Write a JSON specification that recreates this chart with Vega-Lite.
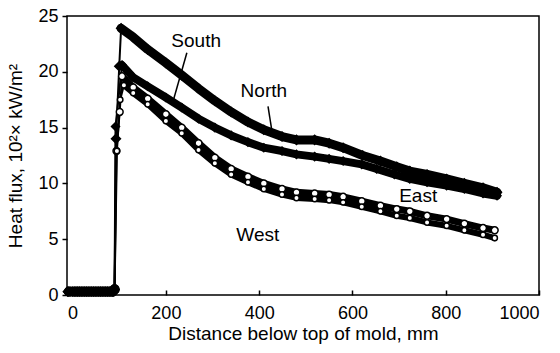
{
  "$schema": "https://vega.github.io/schema/vega-lite/v6.json",
  "width": 472,
  "height": 279,
  "autosize": {"type": "none"},
  "padding": {"left": 67, "top": 16, "right": 21, "bottom": 58},
  "background": "white",
  "config": {
    "view": {"stroke": "black", "strokeWidth": 1.5},
    "font": "Liberation Sans",
    "axis": {"domain": false, "grid": false, "tickColor": "black", "labelColor": "black", "titleColor": "black", "labelFontSize": 18, "titleFontSize": 19, "titleFontWeight": "normal", "tickWidth": 1.5}
  },
  "datasets": {
    "flux": [
      {"series": "North", "x": -10, "y": 0.3}, {"series": "North", "x": 0, "y": 0.3}, {"series": "North", "x": 10, "y": 0.3}, {"series": "North", "x": 20, "y": 0.3}, {"series": "North", "x": 30, "y": 0.3}, {"series": "North", "x": 40, "y": 0.3}, {"series": "North", "x": 50, "y": 0.3}, {"series": "North", "x": 60, "y": 0.3}, {"series": "North", "x": 70, "y": 0.3}, {"series": "North", "x": 80, "y": 0.3}, {"series": "North", "x": 88, "y": 0.3},
      {"series": "North", "x": 90, "y": 0.5}, {"series": "North", "x": 93, "y": 14}, {"series": "North", "x": 100, "y": 20.5}, {"series": "North", "x": 104, "y": 23.9}, {"series": "North", "x": 130, "y": 23.1}, {"series": "North", "x": 161, "y": 22.0}, {"series": "North", "x": 200, "y": 20.8}, {"series": "North", "x": 234, "y": 19.7}, {"series": "North", "x": 270, "y": 18.5}, {"series": "North", "x": 305, "y": 17.4}, {"series": "North", "x": 340, "y": 16.4}, {"series": "North", "x": 376, "y": 15.5}, {"series": "North", "x": 410, "y": 14.8}, {"series": "North", "x": 449, "y": 14.2}, {"series": "North", "x": 480, "y": 13.9}, {"series": "North", "x": 519, "y": 13.9}, {"series": "North", "x": 550, "y": 13.6}, {"series": "North", "x": 580, "y": 13.2}, {"series": "North", "x": 622, "y": 12.5}, {"series": "North", "x": 660, "y": 12.0}, {"series": "North", "x": 695, "y": 11.5}, {"series": "North", "x": 723, "y": 11.1}, {"series": "North", "x": 760, "y": 10.8}, {"series": "North", "x": 802, "y": 10.4}, {"series": "North", "x": 840, "y": 10.0}, {"series": "North", "x": 880, "y": 9.6}, {"series": "North", "x": 910, "y": 9.2},
      {"series": "South", "x": -10, "y": 0.3}, {"series": "South", "x": 5, "y": 0.3}, {"series": "South", "x": 15, "y": 0.3}, {"series": "South", "x": 25, "y": 0.3}, {"series": "South", "x": 35, "y": 0.3}, {"series": "South", "x": 45, "y": 0.3}, {"series": "South", "x": 55, "y": 0.3}, {"series": "South", "x": 65, "y": 0.3}, {"series": "South", "x": 75, "y": 0.3}, {"series": "South", "x": 85, "y": 0.3},
      {"series": "South", "x": 90, "y": 0.5}, {"series": "South", "x": 92, "y": 15.1}, {"series": "South", "x": 106, "y": 20.6}, {"series": "South", "x": 130, "y": 19.5}, {"series": "South", "x": 161, "y": 18.7}, {"series": "South", "x": 200, "y": 17.7}, {"series": "South", "x": 234, "y": 16.8}, {"series": "South", "x": 270, "y": 15.8}, {"series": "South", "x": 305, "y": 15.0}, {"series": "South", "x": 340, "y": 14.3}, {"series": "South", "x": 376, "y": 13.7}, {"series": "South", "x": 410, "y": 13.2}, {"series": "South", "x": 449, "y": 12.9}, {"series": "South", "x": 480, "y": 12.6}, {"series": "South", "x": 519, "y": 12.4}, {"series": "South", "x": 550, "y": 12.2}, {"series": "South", "x": 580, "y": 12.0}, {"series": "South", "x": 620, "y": 11.7}, {"series": "South", "x": 652, "y": 11.3}, {"series": "South", "x": 690, "y": 10.8}, {"series": "South", "x": 723, "y": 10.4}, {"series": "South", "x": 760, "y": 10.1}, {"series": "South", "x": 802, "y": 9.8}, {"series": "South", "x": 840, "y": 9.5}, {"series": "South", "x": 880, "y": 9.1}, {"series": "South", "x": 910, "y": 8.9},
      {"series": "East", "x": -8, "y": 0.3}, {"series": "East", "x": 2, "y": 0.3}, {"series": "East", "x": 12, "y": 0.3}, {"series": "East", "x": 22, "y": 0.3}, {"series": "East", "x": 32, "y": 0.3}, {"series": "East", "x": 42, "y": 0.3}, {"series": "East", "x": 52, "y": 0.3}, {"series": "East", "x": 62, "y": 0.3}, {"series": "East", "x": 72, "y": 0.3}, {"series": "East", "x": 82, "y": 0.3},
      {"series": "East", "x": 90, "y": 0.5}, {"series": "East", "x": 94, "y": 12.9}, {"series": "East", "x": 101, "y": 16.4}, {"series": "East", "x": 106, "y": 19.6}, {"series": "East", "x": 130, "y": 18.6}, {"series": "East", "x": 161, "y": 17.6}, {"series": "East", "x": 200, "y": 16.2}, {"series": "East", "x": 234, "y": 15.0}, {"series": "East", "x": 270, "y": 13.6}, {"series": "East", "x": 305, "y": 12.3}, {"series": "East", "x": 340, "y": 11.3}, {"series": "East", "x": 376, "y": 10.6}, {"series": "East", "x": 410, "y": 10.0}, {"series": "East", "x": 449, "y": 9.5}, {"series": "East", "x": 480, "y": 9.2}, {"series": "East", "x": 519, "y": 9.1}, {"series": "East", "x": 550, "y": 9.0}, {"series": "East", "x": 580, "y": 8.8}, {"series": "East", "x": 620, "y": 8.4}, {"series": "East", "x": 660, "y": 8.0}, {"series": "East", "x": 695, "y": 7.7}, {"series": "East", "x": 723, "y": 7.5}, {"series": "East", "x": 760, "y": 7.1}, {"series": "East", "x": 802, "y": 6.8}, {"series": "East", "x": 840, "y": 6.4}, {"series": "East", "x": 880, "y": 6.0}, {"series": "East", "x": 905, "y": 5.8},
      {"series": "West", "x": -5, "y": 0.3}, {"series": "West", "x": 7, "y": 0.3}, {"series": "West", "x": 17, "y": 0.3}, {"series": "West", "x": 27, "y": 0.3}, {"series": "West", "x": 37, "y": 0.3}, {"series": "West", "x": 47, "y": 0.3}, {"series": "West", "x": 57, "y": 0.3}, {"series": "West", "x": 67, "y": 0.3}, {"series": "West", "x": 77, "y": 0.3}, {"series": "West", "x": 86, "y": 0.3},
      {"series": "West", "x": 90, "y": 0.5}, {"series": "West", "x": 95, "y": 12.9}, {"series": "West", "x": 102, "y": 17.5}, {"series": "West", "x": 110, "y": 18.8}, {"series": "West", "x": 130, "y": 18.1}, {"series": "West", "x": 161, "y": 17.1}, {"series": "West", "x": 200, "y": 15.6}, {"series": "West", "x": 234, "y": 14.5}, {"series": "West", "x": 270, "y": 13.0}, {"series": "West", "x": 305, "y": 11.8}, {"series": "West", "x": 340, "y": 10.8}, {"series": "West", "x": 376, "y": 10.1}, {"series": "West", "x": 410, "y": 9.5}, {"series": "West", "x": 449, "y": 9.0}, {"series": "West", "x": 480, "y": 8.7}, {"series": "West", "x": 519, "y": 8.6}, {"series": "West", "x": 550, "y": 8.5}, {"series": "West", "x": 580, "y": 8.3}, {"series": "West", "x": 620, "y": 7.9}, {"series": "West", "x": 660, "y": 7.5}, {"series": "West", "x": 695, "y": 7.1}, {"series": "West", "x": 723, "y": 6.9}, {"series": "West", "x": 760, "y": 6.5}, {"series": "West", "x": 802, "y": 6.2}, {"series": "West", "x": 840, "y": 5.8}, {"series": "West", "x": 880, "y": 5.4}, {"series": "West", "x": 905, "y": 5.1}
    ],
    "labels": [
      {"label": "South", "x": 265, "y": 22.2},
      {"label": "North", "x": 410, "y": 17.7},
      {"label": "East", "x": 741, "y": 8.3},
      {"label": "West", "x": 397, "y": 4.8}
    ],
    "leaders": [
      {"x": 245, "y": 21.7, "x2": 215, "y2": 17.3},
      {"x": 419, "y": 16.9, "x2": 427, "y2": 14.8}
    ]
  },
  "layer": [
    {
      "data": {"name": "flux"},
      "transform": [{"filter": "datum.x <= 112"}],
      "mark": {"type": "line", "color": "black", "strokeWidth": 2, "strokeJoin": "round"},
      "encoding": {
        "x": {"field": "x", "type": "quantitative", "scale": {"domain": [-12, 1000], "nice": false, "zero": false},
          "axis": {"values": [0, 200, 400, 600, 800, 1000], "format": "d", "tickSize": -5, "labelPadding": 14, "title": "Distance below top of mold, mm", "titlePadding": 2}},
        "y": {"field": "y", "type": "quantitative", "scale": {"domain": [0, 25], "nice": false},
          "axis": {"values": [0, 5, 10, 15, 20, 25], "tickSize": 5, "labelPadding": 4, "title": "Heat flux, 10²× kW/m²", "titlePadding": 12}},
        "detail": {"field": "series", "type": "nominal"}
      }
    },
    {
      "data": {"name": "flux"},
      "transform": [{"filter": "datum.x >= 104"}],
      "mark": {"type": "line", "color": "black", "strokeJoin": "round", "strokeCap": "round"},
      "encoding": {
        "x": {"field": "x", "type": "quantitative"},
        "y": {"field": "y", "type": "quantitative"},
        "detail": {"field": "series", "type": "nominal"},
        "strokeWidth": {"field": "series", "type": "nominal", "scale": {"domain": ["North", "South", "East", "West"], "range": [9, 6, 6, 6]}, "legend": null}
      }
    },
    {
      "data": {"name": "flux"},
      "mark": {"type": "point", "stroke": "black", "strokeWidth": 1.5, "opacity": 1},
      "encoding": {
        "x": {"field": "x", "type": "quantitative"},
        "y": {"field": "y", "type": "quantitative"},
        "shape": {"field": "series", "type": "nominal", "scale": {"domain": ["North", "South", "East", "West"], "range": ["diamond", "diamond", "circle", "circle"]}, "legend": null},
        "fill": {"condition": {"test": "datum.y < 1", "value": "black"}, "field": "series", "type": "nominal", "scale": {"domain": ["North", "South", "East", "West"], "range": ["black", "black", "white", "white"]}, "legend": null},
        "size": {"condition": {"test": "datum.y < 1", "value": 75}, "field": "series", "type": "nominal", "scale": {"domain": ["North", "South", "East", "West"], "range": [80, 30, 18, 18]}, "legend": null}
      }
    },
    {
      "data": {"name": "leaders"},
      "mark": {"type": "rule", "color": "black", "strokeWidth": 1.5},
      "encoding": {
        "x": {"field": "x", "type": "quantitative"},
        "y": {"field": "y", "type": "quantitative"},
        "x2": {"field": "x2"},
        "y2": {"field": "y2"}
      }
    },
    {
      "data": {"name": "labels"},
      "mark": {"type": "text", "fontSize": 19, "color": "black", "baseline": "alphabetic", "align": "center"},
      "encoding": {
        "x": {"field": "x", "type": "quantitative"},
        "y": {"field": "y", "type": "quantitative"},
        "text": {"field": "label"}
      }
    }
  ]
}
